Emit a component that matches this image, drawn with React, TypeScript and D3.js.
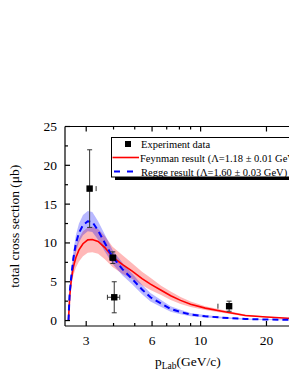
import React from "react";
import * as d3 from "d3";

const xs = [2.49, 2.52, 2.56, 2.62, 2.69, 2.78, 2.9, 3.05, 3.2, 3.4, 3.65, 3.96, 4.4, 4.85, 5.4, 5.9, 6.6, 7.3, 8.1, 9.0, 10.5, 12.5, 16, 20, 25, 30];
const feynman = [0, 3.0, 5.1, 6.9, 8.1, 9.1, 9.9, 10.4, 10.45, 10.2, 9.4, 8.2, 7.2, 6.4, 5.4, 4.7, 3.9, 3.2, 2.6, 2.1, 1.6, 1.2, 0.66, 0.45, 0.3, 0.22];
const feynmanHi = [0, 3.5, 5.9, 8.0, 9.4, 10.6, 11.5, 12.0, 12.1, 11.8, 10.9, 9.5, 8.4, 7.4, 6.3, 5.5, 4.5, 3.75, 3.05, 2.45, 1.85, 1.4, 0.77, 0.52, 0.35, 0.26];
const feynmanLo = [0, 2.5, 4.3, 5.8, 6.8, 7.6, 8.3, 8.75, 8.8, 8.6, 7.9, 6.9, 6.0, 5.4, 4.55, 3.95, 3.3, 2.65, 2.15, 1.75, 1.35, 1.0, 0.55, 0.38, 0.25, 0.18];
const regge = [0, 3.5, 5.5, 8.0, 9.9, 11.3, 12.3, 12.8, 12.7, 11.6, 10.0, 8.2, 6.6, 5.4, 4.0, 3.0, 2.2, 1.5, 1.1, 0.77, 0.55, 0.38, 0.2, 0.14, 0.1, 0.08];
const reggeHi = [0, 3.9, 6.1, 8.9, 11.0, 12.5, 13.6, 14.1, 14.0, 12.8, 11.1, 9.1, 7.4, 6.1, 4.6, 3.55, 2.65, 1.85, 1.38, 0.98, 0.72, 0.5, 0.28, 0.2, 0.15, 0.12];
const reggeLo = [0, 3.1, 4.9, 7.1, 8.8, 10.1, 11.0, 11.5, 11.4, 10.4, 8.9, 7.3, 5.8, 4.7, 3.4, 2.45, 1.75, 1.15, 0.82, 0.56, 0.38, 0.26, 0.12, 0.08, 0.05, 0.04];

const expX = [3.11, 3.97, 4.03, 13.5];
const expY = [17, 8.1, 3.0, 1.85];
const expYErr = [5, 0.75, 2.0, 0.65];
const expXLo = [null, 3.85, 3.75, 12.0];
const expXHi = [3.33, 4.1, 4.27, null];

const xMajor = [3, 6, 10, 20];
const xMinor = [4, 5, 7, 8, 9];
const yMajor = [0, 5, 10, 15, 20, 25];
const yMinor = [2.5, 7.5, 12.5, 17.5, 22.5];

const legendLabels = [
  "Experiment data",
  "Feynman result (\u039B=1.18 \u00B1 0.01 GeV)",
  "Regge result (\u039B=1.60 \u00B1 0.03 GeV)",
];

export default function App() {
  const W = 289, H = 374;
  const left = 65, top = 126.5, bottom = 326;
  const x = d3.scaleLog().domain([2.4, 30]).range([left, 305]);
  const y = d3.scaleLinear().domain([-0.7, 25]).range([bottom, top]);
  const font = "'Liberation Serif', 'Times New Roman', serif";

  const idx = xs.map((_, i) => i);
  const line = (arr: number[]) =>
    d3.line<number>().x((i) => x(xs[i])).y((i) => y(arr[i]))(idx) || "";
  const area = (lo: number[], hi: number[]) =>
    d3.area<number>().x((i) => x(xs[i])).y0((i) => y(lo[i])).y1((i) => y(hi[i]))(idx) || "";

  return (
    <svg width={W} height={H} style={{ position: "absolute", left: 0, top: 0, background: "#fff" }} fontFamily={font}>
      <defs>
        <clipPath id="plotclip">
          <rect x={left} y={top} width={W - left} height={bottom - top} />
        </clipPath>
      </defs>
      <g clipPath="url(#plotclip)">
        <path d={area(feynmanLo, feynmanHi)} fill="#ff0000" fillOpacity={0.28} stroke="none" />
        <path d={area(reggeLo, reggeHi)} fill="#0000ff" fillOpacity={0.28} stroke="none" />
        <path d={line(feynman)} fill="none" stroke="#ff0000" strokeWidth={1.6} />
        <path d={line(regge)} fill="none" stroke="#0000ff" strokeWidth={2} strokeDasharray="6,4" />
      </g>
      {expX.map((xv, i) => {
        const cx = x(xv), cy = y(expY[i]);
        const y1 = y(expY[i] + expYErr[i]), y2 = y(expY[i] - expYErr[i]);
        const lo = expXLo[i], hi = expXHi[i];
        return (
          <g key={i} stroke="#333" strokeWidth={1}>
            <line x1={cx} x2={cx} y1={y1} y2={y2} />
            <line x1={cx - 2.5} x2={cx + 2.5} y1={y1} y2={y1} />
            <line x1={cx - 2.5} x2={cx + 2.5} y1={y2} y2={y2} />
            {lo != null && hi != null && <line x1={x(lo)} x2={x(hi)} y1={cy} y2={cy} />}
            {lo != null && <line x1={x(lo)} x2={x(lo)} y1={cy - 2.5} y2={cy + 2.5} />}
            {hi != null && <line x1={x(hi)} x2={x(hi)} y1={cy - 2.5} y2={cy + 2.5} />}
            <rect x={cx - 3.2} y={cy - 3.2} width={6.4} height={6.4} fill="#000" stroke="none" />
          </g>
        );
      })}
      <g stroke="#000" strokeWidth={1.2}>
        <line x1={left} x2={W} y1={bottom} y2={bottom} />
        <line x1={left} x2={W} y1={top} y2={top} />
        <line x1={left} x2={left} y1={top} y2={bottom} />
        {xMajor.map((v) => (
          <g key={"xM" + v}>
            <line x1={x(v)} x2={x(v)} y1={bottom} y2={bottom - 5} />
            <line x1={x(v)} x2={x(v)} y1={top} y2={top + 5} />
          </g>
        ))}
        {xMinor.map((v) => (
          <g key={"xm" + v}>
            <line x1={x(v)} x2={x(v)} y1={bottom} y2={bottom - 3} />
            <line x1={x(v)} x2={x(v)} y1={top} y2={top + 3} />
          </g>
        ))}
        {yMajor.map((v) => (
          <line key={"yM" + v} x1={left} x2={left + 5} y1={y(v)} y2={y(v)} />
        ))}
        {yMinor.map((v) => (
          <line key={"ym" + v} x1={left} x2={left + 3} y1={y(v)} y2={y(v)} />
        ))}
      </g>
      {xMajor.map((v) => (
        <text key={"xl" + v} x={x(v)} y={345} fontSize={13.5} textAnchor="middle" fill="#000">{v}</text>
      ))}
      {yMajor.map((v) => (
        <text key={"yl" + v} x={57} y={y(v) + 4.5} fontSize={13.5} textAnchor="end" fill="#000">{v}</text>
      ))}
      <text transform={`translate(19,${(top + bottom) / 2}) rotate(-90)`} fontSize={13.5} textAnchor="middle" fill="#000">
        total cross section (μb)
      </text>
      <text x={155} y={366} fontSize={13.5} fill="#000">
        p<tspan fontSize={9.5} dy={3}>Lab</tspan><tspan dy={-3}>(GeV/c)</tspan>
      </text>
      <rect x={115} y={177} width={W - 115} height={3} fill="#000" />
      <rect x={111.5} y={137.5} width={W} height={39.5} fill="#fff" stroke="#000" strokeWidth={1} />
      <rect x={125} y={141} width={6} height={6} fill="#000" />
      <text x={141} y={147.5} fontSize={10.5} fill="#000">{legendLabels[0]}</text>
      <line x1={112.5} x2={139} y1={157.5} y2={157.5} stroke="#ff0000" strokeWidth={1.6} />
      <text x={140} y={161.5} fontSize={10.5} fill="#000">{legendLabels[1]}</text>
      <line x1={114} x2={134} y1={171.5} y2={171.5} stroke="#0000ff" strokeWidth={2} strokeDasharray="6,7" />
      <text x={141} y={175.5} fontSize={10.5} fill="#000">{legendLabels[2]}</text>
    </svg>
  );
}
